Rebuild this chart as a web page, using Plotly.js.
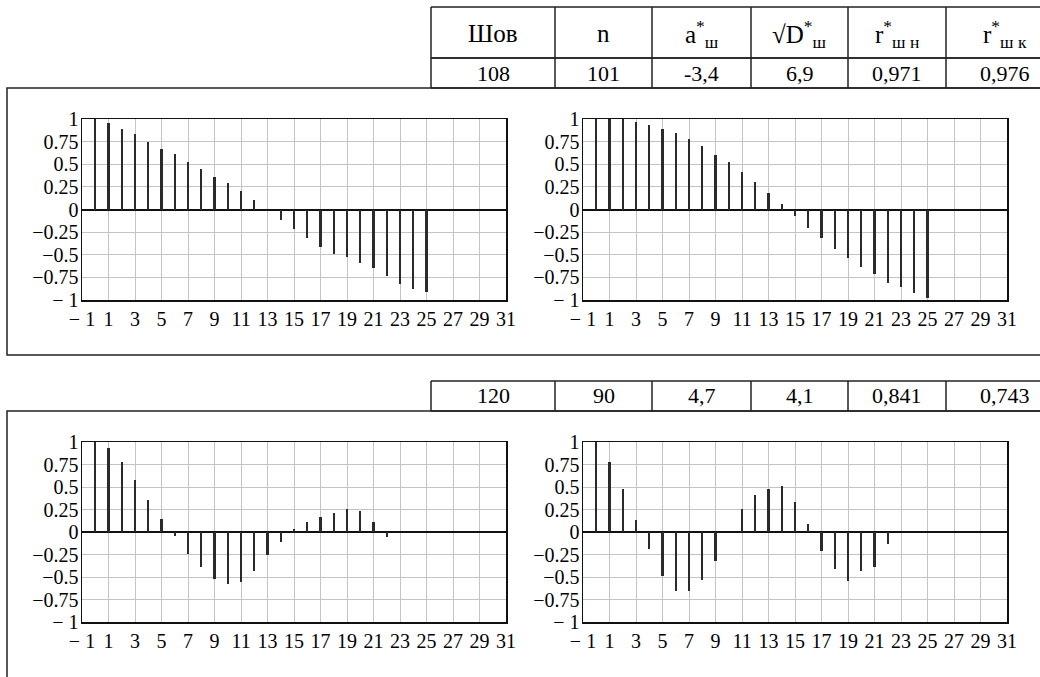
<!DOCTYPE html>
<html>
<head>
<meta charset="utf-8">
<script src="https://cdn.plot.ly/plotly-3.0.1.min.js"></script>
<style>
html,body{margin:0;padding:0;background:#fff;}
#chart{width:1040px;height:677px;}
</style>
</head>
<body>
<div id="chart"></div>
<script>
// ---- data ----
const tableHeaders = ["Шов", "n", "a<sup>*</sup><sub>ш</sub>", "√D<sup>*</sup><sub>ш</sub>", "r<sup>*</sup><sub>ш н</sub>", "r<sup>*</sup><sub>ш к</sub>"];
const tableRow1 = ["108", "101", "-3,4", "6,9", "0,971", "0,976"];
const tableRow2 = ["120", "90", "4,7", "4,1", "0,841", "0,743"];

const acf108a = [1.0, 0.96, 0.89, 0.83, 0.75, 0.67, 0.61, 0.53, 0.45, 0.36, 0.29, 0.21, 0.10, 0.0,
                 -0.12, -0.21, -0.31, -0.41, -0.49, -0.53, -0.59, -0.65, -0.74, -0.82, -0.88, -0.91];
const acf108b = [1.0, 1.0, 1.0, 0.97, 0.93, 0.89, 0.84, 0.78, 0.70, 0.60, 0.52, 0.41, 0.30, 0.18, 0.06,
                 -0.07, -0.20, -0.31, -0.44, -0.54, -0.63, -0.71, -0.81, -0.86, -0.92, -0.98];
const acf120a = [1.0, 0.93, 0.78, 0.58, 0.36, 0.14, -0.04, -0.24, -0.39, -0.52, -0.58, -0.55, -0.43,
                 -0.26, -0.11, 0.03, 0.11, 0.17, 0.21, 0.26, 0.23, 0.11, -0.06];
const acf120b = [1.0, 0.78, 0.48, 0.13, -0.19, -0.49, -0.65, -0.66, -0.53, -0.32, 0.0, 0.26, 0.41,
                 0.48, 0.51, 0.33, 0.09, -0.21, -0.41, -0.54, -0.43, -0.39, -0.13];

const xTickVals = [-1, 1, 3, 5, 7, 9, 11, 13, 15, 17, 19, 21, 23, 25, 27, 29, 31];
const xTickText = ["− 1", "1", "3", "5", "7", "9", "11", "13", "15", "17", "19", "21", "23", "25", "27", "29", "31"];
const yTickVals = [-1, -0.75, -0.5, -0.25, 0, 0.25, 0.5, 0.75, 1];
const yTickText = ["− 1", "−0.75", "−0.5", "−0.25", "0", "0.25", "0.5", "0.75", "1"];

// ---- layout helpers (pixel -> paper) ----
const W = 1040, H = 677;
const px = v => v / W;
const py = v => 1 - v / H;

const series = [acf108a, acf108b, acf120a, acf120b];
const boxes = [
  {x0: 82, x1: 506, y0: 119, y1: 300},
  {x0: 583, x1: 1007, y0: 119, y1: 300},
  {x0: 82, x1: 506, y0: 442, y1: 622},
  {x0: 583, x1: 1007, y0: 442, y1: 622}
];

const SERIF = "Liberation Serif";
const traces = [];
const layout = {
  width: W, height: H,
  margin: {l: 0, r: 0, t: 0, b: 0},
  paper_bgcolor: "#fff", plot_bgcolor: "#fff",
  font: {family: SERIF, color: "#000", size: 20},
  showlegend: false,
  bargap: 0,
  shapes: [], annotations: []
};

series.forEach((vals, i) => {
  const n = i + 1;
  const xa = n === 1 ? "x" : "x" + n;
  const ya = n === 1 ? "y" : "y" + n;
  traces.push({
    type: "bar",
    x: vals.map((v, k) => k),
    y: vals,
    width: 0.16,
    marker: {color: "#2a2a2a", line: {width: 0}},
    xaxis: xa, yaxis: ya,
    hoverinfo: "x+y"
  });
  const b = boxes[i];
  layout[n === 1 ? "xaxis" : "xaxis" + n] = {
    domain: [px(b.x0), px(b.x1)],
    anchor: ya,
    range: [-1, 31],
    tickmode: "array", tickvals: xTickVals, ticktext: xTickText,
    showgrid: true, gridcolor: "#c4c4c4", gridwidth: 1,
    showline: true, mirror: true, linecolor: "#111", linewidth: 1.5,
    zeroline: false, ticks: "",
    tickfont: {family: SERIF, size: 20, color: "#000"},
    fixedrange: true
  };
  layout[n === 1 ? "yaxis" : "yaxis" + n] = {
    domain: [py(b.y1), py(b.y0)],
    anchor: xa,
    range: [-1, 1],
    tickmode: "array", tickvals: yTickVals, ticktext: yTickText,
    showgrid: true, gridcolor: "#c4c4c4", gridwidth: 1,
    showline: true, mirror: true, linecolor: "#111", linewidth: 1.5,
    zeroline: true, zerolinecolor: "#111", zerolinewidth: 2,
    ticks: "", ticklabelstandoff: -2,
    tickfont: {family: SERIF, size: 20, color: "#000"},
    fixedrange: true
  };
});

// ---- frames round the chart pairs ----
const lineStyle = {color: "#222", width: 1.5};
layout.shapes.push({type: "rect", xref: "paper", yref: "paper",
  x0: px(7), x1: px(1060), y0: py(88), y1: py(355), line: lineStyle});
layout.shapes.push({type: "rect", xref: "paper", yref: "paper",
  x0: px(7), x1: px(1060), y0: py(411), y1: py(700), line: lineStyle});

// ---- table ----
const colEdges = [431, 555, 652, 751, 848, 946, 1064];

function addRowLines(top, bottom) {
  layout.shapes.push({type: "line", xref: "paper", yref: "paper",
    x0: px(colEdges[0]), x1: px(1060), y0: py(top), y1: py(top), line: lineStyle});
  layout.shapes.push({type: "line", xref: "paper", yref: "paper",
    x0: px(colEdges[0]), x1: px(1060), y0: py(bottom), y1: py(bottom), line: lineStyle});
  colEdges.slice(0, 6).forEach(e => {
    layout.shapes.push({type: "line", xref: "paper", yref: "paper",
      x0: px(e), x1: px(e), y0: py(top), y1: py(bottom), line: lineStyle});
  });
}
function addRowText(cells, centerY, size) {
  cells.forEach((t, j) => {
    layout.annotations.push({
      xref: "paper", yref: "paper",
      x: px((colEdges[j] + colEdges[j + 1]) / 2), y: py(centerY),
      text: t, showarrow: false, xanchor: "center", yanchor: "middle",
      font: {family: SERIF, size: size, color: "#000"}
    });
  });
}
addRowLines(7, 58);
addRowLines(58, 88);
addRowLines(381, 411);
addRowText(tableHeaders, 34, 25);
addRowText(tableRow1, 73, 22);
addRowText(tableRow2, 396, 22);

Plotly.newPlot("chart", traces, layout, {displayModeBar: false, staticPlot: true});
</script>
</body>
</html>
